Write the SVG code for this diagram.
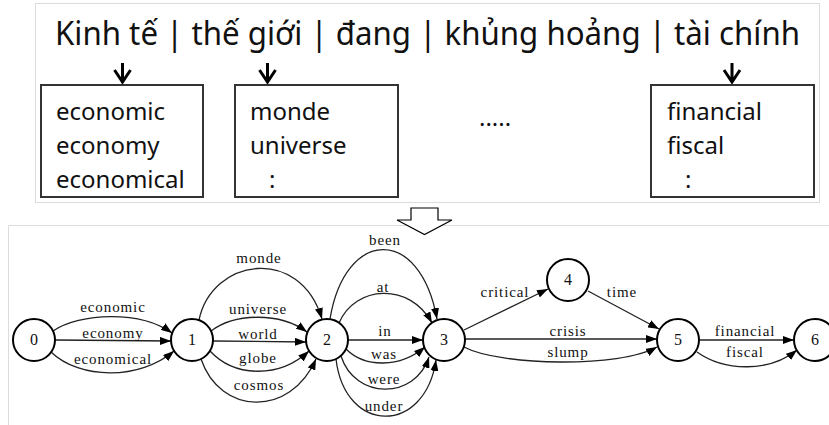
<svg xmlns="http://www.w3.org/2000/svg" width="829" height="425" viewBox="0 0 829 425">
<style>
.frame{fill:none;stroke:#dcdcdc;stroke-width:1}
.box{fill:#fff;stroke:#333;stroke-width:2}
.vt{font-family:"Noto Sans","Open Sans",sans-serif;fill:#111}
.bt{font-size:24px}
.down{fill:none;stroke:#000;stroke-width:3}
.node circle{fill:#fff;stroke:#000;stroke-width:2}
.node text{font-family:"Liberation Serif",serif;font-size:16px;text-anchor:middle;fill:#111}
.edge{fill:none;stroke:#222;stroke-width:1.3;marker-end:url(#ah)}
.lbl{font-family:"Liberation Serif",serif;font-size:15px;letter-spacing:0.9px;text-anchor:middle;fill:#111}
</style>
<defs>
<marker id="ah" markerUnits="userSpaceOnUse" markerWidth="11" markerHeight="8" refX="11" refY="4" orient="auto">
<path d="M0,0 L11,4 L0,8 z" fill="#000"/>
</marker>
</defs>
<rect width="829" height="425" fill="#fff"/>

<g id="top-panel">
<rect class="frame" x="35.5" y="3.5" width="784" height="199"/>
<text class="vt" x="55" y="45" font-size="32" textLength="745" lengthAdjust="spacingAndGlyphs">Kinh tế | thế giới | đang | khủng hoảng | tài chính</text>
<g id="down-arrows">
<path class="down" d="M122.5,63 V82 M114.5,70 L122.5,82 L130.5,70"/>
<path class="down" d="M267.5,63 V82 M259.5,70 L267.5,82 L275.5,70"/>
<path class="down" d="M732,63 V82 M724,70 L732,82 L740,70"/>
</g>
<g id="box-1">
<rect class="box" x="41" y="85" width="162" height="112"/>
<text class="vt bt" x="56" y="120">economic</text>
<text class="vt bt" x="56" y="154">economy</text>
<text class="vt bt" x="56" y="188">economical</text>
</g>
<g id="box-2">
<rect class="box" x="235" y="85" width="163" height="112"/>
<text class="vt bt" x="250" y="120">monde</text>
<text class="vt bt" x="250" y="154">universe</text>
<text class="vt bt" x="269" y="188">:</text>
</g>
<text id="ellipsis" class="vt bt" x="479" y="126">.....</text>
<g id="box-3">
<rect class="box" x="651" y="85" width="163" height="112"/>
<text class="vt bt" x="667" y="120">financial</text>
<text class="vt bt" x="667" y="154">fiscal</text>
<text class="vt bt" x="685" y="188">:</text>
</g>
</g>

<path id="bottom-frame" class="frame" d="M8.5,425 V225.5 H829"/>
<polygon id="block-arrow" points="411,208 438,208 438,220 452,220 424.5,234.5 397,220 411,220" fill="#fff" stroke="#000" stroke-width="1.2"/>

<g id="connectors">
<path class="edge" d="M53,331 C80,313 140,310 172,333"/>
<path class="edge" d="M55,340 L171,341"/>
<path class="edge" d="M51,352 C80,380 140,380 174,351"/>
<path class="edge" d="M199,320 C212,258 300,245 322,319"/>
<path class="edge" d="M211,331 C235,313 280,312 307,332"/>
<path class="edge" d="M213,341 L306,342"/>
<path class="edge" d="M210,351 C235,378 280,378 309,351"/>
<path class="edge" d="M201,359 C220,415 290,418 316,359"/>
<path class="edge" d="M330,319 C345,228 420,225 437,319"/>
<path class="edge" d="M339,323 C355,285 410,282 432,323"/>
<path class="edge" d="M348,340 L423,340"/>
<path class="edge" d="M346,349 C365,368 400,368 425,347"/>
<path class="edge" d="M341,356 C355,400 415,400 429,357"/>
<path class="edge" d="M336,359 C345,435 425,435 436,360"/>
<path class="edge" d="M464,330 L548,289"/>
<path class="edge" d="M588,291 L659,329"/>
<path class="edge" d="M465,339 L657,339"/>
<path class="edge" d="M464,347 C500,366 620,368 657,347"/>
<path class="edge" d="M699,340 L794,340"/>
<path class="edge" d="M697,352 C725,372 770,372 797,350"/>
</g>

<g id="edge-labels">
<text class="lbl" x="113" y="312">economic</text>
<text class="lbl" x="113" y="338">economy</text>
<text class="lbl" x="113" y="364">economical</text>
<text class="lbl" x="259" y="263">monde</text>
<text class="lbl" x="258" y="314">universe</text>
<text class="lbl" x="258" y="339">world</text>
<text class="lbl" x="258" y="363">globe</text>
<text class="lbl" x="259" y="390">cosmos</text>
<text class="lbl" x="385" y="245">been</text>
<text class="lbl" x="383" y="292">at</text>
<text class="lbl" x="385" y="336">in</text>
<text class="lbl" x="384" y="359">was</text>
<text class="lbl" x="384" y="384">were</text>
<text class="lbl" x="384" y="411">under</text>
<text class="lbl" x="505" y="297">critical</text>
<text class="lbl" x="622" y="297">time</text>
<text class="lbl" x="568" y="336">crisis</text>
<text class="lbl" x="568" y="357">slump</text>
<text class="lbl" x="745" y="336">financial</text>
<text class="lbl" x="745" y="357">fiscal</text>
</g>

<g id="node-0" class="node"><circle cx="34" cy="340" r="21"/><text x="34" y="345">0</text></g>
<g id="node-1" class="node"><circle cx="192" cy="340" r="21"/><text x="192" y="345">1</text></g>
<g id="node-2" class="node"><circle cx="327" cy="340" r="21"/><text x="327" y="345">2</text></g>
<g id="node-3" class="node"><circle cx="444" cy="340" r="21"/><text x="444" y="345">3</text></g>
<g id="node-4" class="node"><circle cx="568" cy="280" r="21"/><text x="568" y="285">4</text></g>
<g id="node-5" class="node"><circle cx="678" cy="340" r="21"/><text x="678" y="345">5</text></g>
<g id="node-6" class="node"><circle cx="815" cy="340" r="21"/><text x="815" y="345">6</text></g>
</svg>
